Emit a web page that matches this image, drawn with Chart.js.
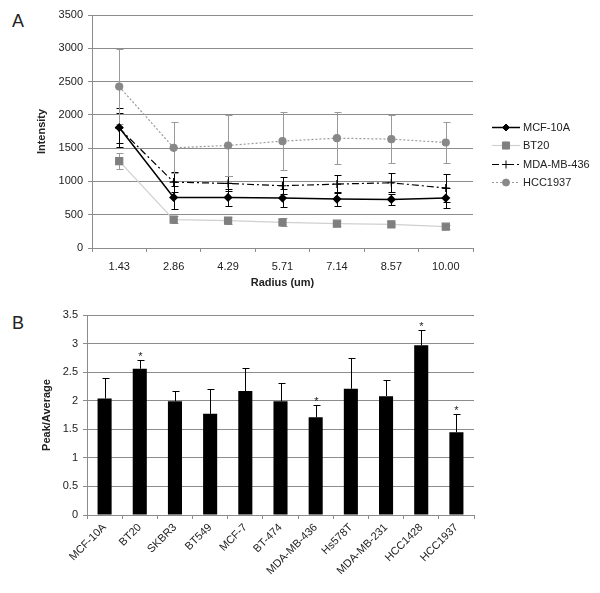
<!DOCTYPE html>
<html lang="en">
<head>
    <meta charset="UTF-8">
    <title>Intensity vs Radius / Peak-Average</title>
    <script src="https://cdn.jsdelivr.net/npm/chart.js"></script>
    <style>
        body {
            margin: 0;
            padding: 0;
            background: #fff;
            width: 600px;
            height: 593px;
            position: relative;
            overflow: hidden;
            font-family: "Liberation Sans", Arial, sans-serif;
        }
        .panel-label {
            position: absolute;
            font-size: 18px;
            line-height: 18px;
            color: #222;
        }
        #boxA { position: absolute; left: 0; top: 0; }
        #boxB { position: absolute; left: 0; top: 300px; }
    </style>
</head>
<body>
    <div class="panel-label" style="left:12px; top:12px;">A</div>
    <div class="panel-label" style="left:12px; top:314px;">B</div>

    <div id="boxA"><canvas id="chartA" width="600" height="290"></canvas></div>
    <div id="boxB"><canvas id="chartB" width="600" height="293"></canvas></div>

    <script>
        // Panel A: intensity vs radius
        const radiusLabels = ['1.43', '2.86', '4.29', '5.71', '7.14', '8.57', '10.00'];
        const mcf10aIntensity = [1810, 760, 760, 750, 735, 730, 750];
        const mcf10aErr = [300, 175, 125, 135, 100, 85, 150];
        const bt20Intensity = [1305, 425, 410, 385, 365, 355, 320];
        const bt20Err = [125, 50, 50, 60, 40, 25, 30];
        const mda436Intensity = [1800, 990, 970, 935, 960, 980, 900];
        const mda436Err = [225, 155, 110, 130, 140, 145, 210];
        const hcc1937Intensity = [2425, 1505, 1540, 1605, 1650, 1635, 1585];
        const hcc1937Err = [560, 385, 460, 435, 390, 365, 305];
        const intensityMax = 3500;
        const intensityStep = 500;

        // Panel B: peak/average per cell line
        const cellLines = ['MCF-10A', 'BT20', 'SKBR3', 'BT549', 'MCF-7', 'BT-474',
            'MDA-MB-436', 'Hs578T', 'MDA-MB-231', 'HCC1428', 'HCC1937'];
        const peakAvg = [2.04, 2.56, 1.99, 1.77, 2.17, 1.99, 1.71, 2.21, 2.08, 2.97, 1.45];
        const peakAvgErr = [0.35, 0.15, 0.18, 0.44, 0.40, 0.32, 0.21, 0.53, 0.28, 0.27, 0.32];
        const significant = [false, true, false, false, false, false, true, false, false, true, true];
        const ratioMax = 3.5;
        const ratioStep = 0.5;

        const gridColor = '#8c8c8c';
        const textColor = '#222';
        const tickFont = { family: '"Liberation Sans", Arial, sans-serif', size: 11 };
        const titleFont = { family: '"Liberation Sans", Arial, sans-serif', size: 11, weight: 'bold' };

        // plain number labels, no thousands separator, no trailing .0
        const plainTick = v => String(Math.round(v * 100) / 100);

        // simple marker drawer (used for the legend)
        function drawMarker(ctx, style, r, x, y, fill, stroke) {
            ctx.save();
            ctx.fillStyle = fill;
            ctx.strokeStyle = stroke;
            ctx.lineWidth = 1;
            ctx.setLineDash([]);
            ctx.beginPath();
            if (style === 'rectRot') {
                ctx.moveTo(x, y - r); ctx.lineTo(x + r, y); ctx.lineTo(x, y + r); ctx.lineTo(x - r, y);
                ctx.closePath(); ctx.fill(); ctx.stroke();
            } else if (style === 'rect') {
                const s = r * Math.SQRT1_2;
                ctx.rect(x - s, y - s, 2 * s, 2 * s); ctx.fill(); ctx.stroke();
            } else if (style === 'cross') {
                ctx.moveTo(x, y - r); ctx.lineTo(x, y + r);
                ctx.moveTo(x - r, y); ctx.lineTo(x + r, y); ctx.stroke();
            } else {
                ctx.arc(x, y, r, 0, Math.PI * 2); ctx.fill(); ctx.stroke();
            }
            ctx.restore();
        }

        // error bars for the line chart (both directions)
        const lineErrorBars = {
            id: 'lineErrorBars',
            beforeDatasetsDraw(chart) {
                const ctx = chart.ctx;
                const yScale = chart.scales.y;
                chart.data.datasets.forEach((ds, di) => {
                    const meta = chart.getDatasetMeta(di);
                    ctx.save();
                    ctx.strokeStyle = ds.errorColor;
                    ctx.lineWidth = 1;
                    meta.data.forEach((pt, i) => {
                        const x = Math.round(pt.x) + 0.5;
                        const top = Math.round(yScale.getPixelForValue(ds.data[i] + ds.errors[i])) + 0.5;
                        const bot = Math.round(yScale.getPixelForValue(ds.data[i] - ds.errors[i])) + 0.5;
                        ctx.beginPath();
                        ctx.moveTo(x, top); ctx.lineTo(x, bot);
                        ctx.moveTo(x - 3, top); ctx.lineTo(x + 4, top);
                        ctx.moveTo(x - 3, bot); ctx.lineTo(x + 4, bot);
                        ctx.stroke();
                    });
                    ctx.restore();
                });
            }
        };

        // legend on the right of panel A
        const sideLegend = {
            id: 'sideLegend',
            afterDraw(chart) {
                const ctx = chart.ctx;
                const x0 = 492, x1 = 520, textX = 523;
                const rows = [127, 145, 164, 182];
                chart.data.datasets.forEach((ds, i) => {
                    const y = rows[i] + 0.5;
                    ctx.save();
                    ctx.strokeStyle = ds.borderColor;
                    ctx.lineWidth = ds.borderWidth;
                    ctx.setLineDash(ds.borderDash || []);
                    ctx.beginPath();
                    ctx.moveTo(x0, y); ctx.lineTo(x1, y);
                    ctx.stroke();
                    ctx.restore();
                    drawMarker(ctx, ds.pointStyle, ds.pointRadius, (x0 + x1) / 2, y,
                        ds.pointBackgroundColor, ds.pointBorderColor);
                    ctx.save();
                    ctx.fillStyle = textColor;
                    ctx.font = '11px "Liberation Sans", Arial, sans-serif';
                    ctx.textBaseline = 'middle';
                    ctx.fillText(ds.label, textX, y);
                    ctx.restore();
                });
            }
        };

        new Chart(document.getElementById('chartA'), {
            type: 'line',
            data: {
                labels: radiusLabels,
                datasets: [
                    {
                        label: 'MCF-10A', data: mcf10aIntensity, errors: mcf10aErr, errorColor: '#000',
                        borderColor: '#000', borderWidth: 1.5, borderDash: [],
                        pointStyle: 'rectRot', pointRadius: 3.5,
                        pointBackgroundColor: '#000', pointBorderColor: '#000'
                    },
                    {
                        label: 'BT20', data: bt20Intensity, errors: bt20Err, errorColor: '#9a9a9a',
                        borderColor: '#d0d0d0', borderWidth: 1.2, borderDash: [],
                        pointStyle: 'rect', pointRadius: 5,
                        pointBackgroundColor: '#7f7f7f', pointBorderColor: '#7f7f7f'
                    },
                    {
                        label: 'MDA-MB-436', data: mda436Intensity, errors: mda436Err, errorColor: '#000',
                        borderColor: '#000', borderWidth: 1.2, borderDash: [7, 3, 2, 3],
                        pointStyle: 'cross', pointRadius: 4,
                        pointBackgroundColor: '#000', pointBorderColor: '#000'
                    },
                    {
                        label: 'HCC1937', data: hcc1937Intensity, errors: hcc1937Err, errorColor: '#9a9a9a',
                        borderColor: '#9a9a9a', borderWidth: 1.2, borderDash: [2, 2],
                        pointStyle: 'circle', pointRadius: 3.5,
                        pointBackgroundColor: '#888', pointBorderColor: '#888'
                    }
                ]
            },
            options: {
                responsive: false,
                animation: false,
                layout: { padding: { left: 35, right: 127, top: 15, bottom: 0 } },
                plugins: { legend: { display: false }, tooltip: { enabled: false } },
                scales: {
                    x: {
                        offset: true,
                        grid: { display: true, drawOnChartArea: false, offset: true, color: gridColor, tickLength: 4 },
                        border: { color: gridColor },
                        ticks: { font: tickFont, color: textColor, padding: 8, maxRotation: 0 },
                        title: { display: true, text: 'Radius (um)', font: titleFont, color: textColor, padding: 0 },
                        afterFit(scale) { scale.height = 42; }
                    },
                    y: {
                        min: 0,
                        max: intensityMax,
                        grid: { color: gridColor, tickLength: 4 },
                        border: { color: gridColor },
                        ticks: { stepSize: intensityStep, font: tickFont, color: textColor, padding: 5, callback: plainTick },
                        title: { display: true, text: 'Intensity', font: titleFont, color: textColor, padding: 0 },
                        afterFit(scale) { scale.width = 57; }
                    }
                }
            },
            plugins: [lineErrorBars, sideLegend]
        });

        // upward error bars and significance stars for the bar chart
        const barErrorBars = {
            id: 'barErrorBars',
            afterDatasetsDraw(chart) {
                const ctx = chart.ctx;
                const yScale = chart.scales.y;
                const ds = chart.data.datasets[0];
                const meta = chart.getDatasetMeta(0);
                ctx.save();
                ctx.strokeStyle = '#000';
                ctx.lineWidth = 1;
                meta.data.forEach((bar, i) => {
                    const x = Math.round(bar.x) + 0.5;
                    const base = yScale.getPixelForValue(ds.data[i]);
                    const top = Math.round(yScale.getPixelForValue(ds.data[i] + ds.errors[i])) + 0.5;
                    ctx.beginPath();
                    ctx.moveTo(x, base); ctx.lineTo(x, top);
                    ctx.moveTo(x - 3, top); ctx.lineTo(x + 4, top);
                    ctx.stroke();
                    if (significant[i]) {
                        ctx.fillStyle = textColor;
                        ctx.font = '11px "Liberation Sans", Arial, sans-serif';
                        ctx.textAlign = 'center';
                        ctx.textBaseline = 'middle';
                        ctx.fillText('*', x, top - 4);
                    }
                });
                ctx.restore();
            }
        };

        new Chart(document.getElementById('chartB'), {
            type: 'bar',
            data: {
                labels: cellLines,
                datasets: [{
                    label: 'Peak/Average',
                    data: peakAvg,
                    errors: peakAvgErr,
                    backgroundColor: '#000',
                    barPercentage: 0.4,
                    categoryPercentage: 1
                }]
            },
            options: {
                responsive: false,
                animation: false,
                layout: { padding: { left: 40, right: 126, top: 15, bottom: 0 } },
                plugins: { legend: { display: false }, tooltip: { enabled: false } },
                scales: {
                    x: {
                        grid: { display: true, drawOnChartArea: false, color: gridColor, tickLength: 4 },
                        border: { color: gridColor },
                        ticks: { font: tickFont, color: textColor, minRotation: 45, maxRotation: 45, padding: 2, autoSkip: false },
                        afterFit(scale) { scale.height = 78; }
                    },
                    y: {
                        min: 0,
                        max: ratioMax,
                        grid: { color: gridColor, tickLength: 4 },
                        border: { color: gridColor },
                        ticks: { stepSize: ratioStep, font: tickFont, color: textColor, padding: 5, callback: plainTick },
                        title: { display: true, text: 'Peak/Average', font: titleFont, color: textColor, padding: 0 },
                        afterFit(scale) { scale.width = 47; }
                    }
                }
            },
            plugins: [barErrorBars]
        });
    </script>
</body>
</html>
